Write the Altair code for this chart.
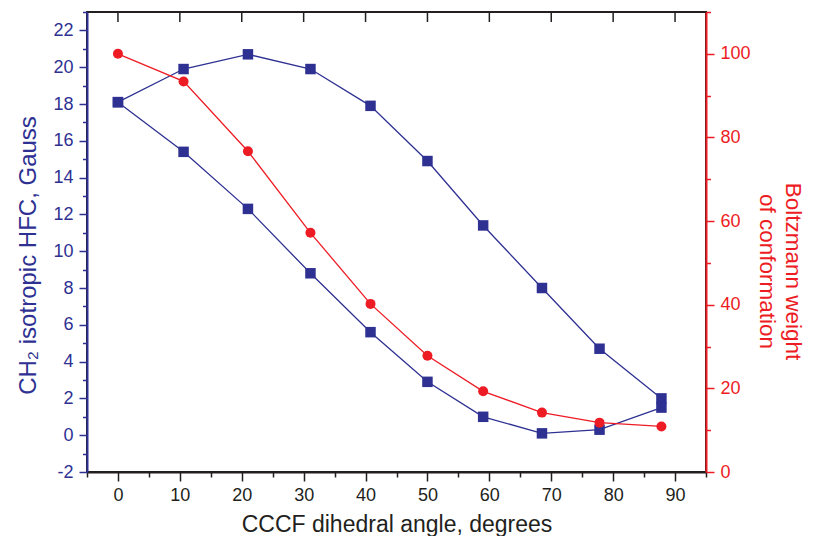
import altair as alt
import pandas as pd

# ---- data ----
angles = [0, 10.6, 21, 31.1, 40.8, 50, 59, 68.5, 77.8, 87.8]
hfc_upper = [18.1, 19.9, 20.7, 19.9, 17.9, 14.9, 11.4, 8.0, 4.7, 2.0]
hfc_lower = [18.1, 15.4, 12.3, 8.8, 5.6, 2.9, 1.0, 0.1, 0.3, 1.5]
boltzmann = [100, 93.4, 76.7, 57.2, 40.2, 27.8, 19.3, 14.2, 11.8, 10.9]

x_ticks = [-5, 0, 5, 10, 15, 20, 25, 30, 35, 40, 45, 50, 55, 60, 65, 70, 75, 80, 85, 90, 95]
top_ticks = [0, 10, 20, 30, 40, 50, 60, 70, 80, 90]
left_ticks = [-2, -1, 0, 1, 2, 3, 4, 5, 6, 7, 8, 9, 10, 11, 12, 13, 14, 15, 16, 17, 18, 19, 20, 21, 22, 23]
right_ticks = [0, 10, 20, 30, 40, 50, 60, 70, 80, 90, 100, 110]

BLUE = "#2E3192"
RED = "#ED1C24"
BLACK = "#231F20"
FONT = "Liberation Sans"
W, H = 619, 460

df_blue = pd.DataFrame({
    "angle": angles + angles,
    "hfc": hfc_upper + hfc_lower,
    "branch": ["upper"] * len(angles) + ["lower"] * len(angles),
})
df_red = pd.DataFrame({"angle": angles, "weight": boltzmann})
df_top = pd.DataFrame({"angle": top_ticks})

x_scale = alt.Scale(domain=[-5, 95], nice=False, zero=False)

x_axis = alt.Axis(
    values=x_ticks,
    labelExpr="datum.value % 10 == 0 ? '' + datum.value : ''",
    tickSize={"condition": {"test": "datum.value % 10 != 0", "value": 5}, "value": 9},
    grid=False, domainColor=BLACK, domainWidth=2, tickColor=BLACK, tickWidth=1.5,
    labelColor=BLACK, labelFont=FONT, labelFontSize=18, labelPadding=5,
    labelOverlap=False, labelFlush=False, labelBound=False,
    title="CCCF dihedral angle, degrees", titleFont=FONT, titleFontSize=23,
    titleFontWeight="normal", titleColor=BLACK, titleBaseline="alphabetic", titleY=59,
)

left_axis = alt.Axis(
    orient="left", values=left_ticks,
    labelExpr="datum.value % 2 == 0 ? '' + datum.value : ''",
    tickSize={"condition": {"test": "datum.value % 2 != 0", "value": 4.5}, "value": 8},
    grid=False, domainColor=BLUE, domainWidth=2, tickColor=BLUE, tickWidth=1.5,
    labelColor=BLUE, labelFont=FONT, labelFontSize=18, labelPadding=6,
    labelOverlap=False, labelFlush=False, labelBound=False,
    title="CH\u2082 isotropic HFC, Gauss", titleFont=FONT, titleFontSize=24,
    titleFontWeight="normal", titleColor=BLUE, titleAngle=-90, titleAlign="center",
    titleBaseline="alphabetic", titleX=-52, titleY=243,
)

right_axis = alt.Axis(
    orient="right", values=right_ticks,
    labelExpr="datum.value % 20 == 0 ? '' + datum.value : ''",
    tickSize={"condition": {"test": "datum.value % 20 != 0", "value": 4.5}, "value": 8},
    grid=False, domainColor=RED, domainWidth=2, tickColor=RED, tickWidth=1.5,
    labelColor=RED, labelFont=FONT, labelFontSize=18, labelPadding=6,
    labelOverlap=False, labelFlush=False, labelBound=False,
    title=["Boltzmann weight", "of conformation"], titleFont=FONT, titleFontSize=22.5,
    titleFontWeight="normal", titleColor=RED, titleAngle=90, titleAlign="center",
    titleBaseline="alphabetic", titleLineHeight=26, titleX=79, titleY=259,
)

y_left = alt.Scale(domain=[-2, 23], nice=False, zero=False)
y_right = alt.Scale(domain=[0, 110], nice=False, zero=False)

x_enc = alt.X("angle:Q", scale=x_scale, axis=x_axis)

blue_line = alt.Chart().mark_line(color=BLUE, strokeWidth=1.3).encode(
    detail="branch:N", order="angle:Q"
)
blue_pts = alt.Chart().mark_point(shape="square", filled=True, size=110, color=BLUE, opacity=1)
blue = alt.layer(blue_line, blue_pts, data=df_blue).encode(
    x=x_enc,
    y=alt.Y("hfc:Q", scale=y_left, axis=left_axis),
)

red_line = alt.Chart().mark_line(color=RED, strokeWidth=1.3).encode(order="angle:Q")
red_pts = alt.Chart().mark_circle(size=100, color=RED, opacity=1)
red = alt.layer(red_line, red_pts, data=df_red).encode(
    x=x_enc,
    y=alt.Y("weight:Q", scale=y_right, axis=right_axis),
)

top_tick_marks = alt.Chart(df_top).mark_rule(color=BLACK, strokeWidth=1.5).encode(
    x=x_enc, y=alt.value(0), y2=alt.value(10),
)

chart = alt.layer(blue, red, top_tick_marks).resolve_scale(
    y="independent"
).properties(
    width=W, height=H,
    autosize=alt.AutoSizeParams(type="none"),
    padding={"left": 79, "top": 4, "right": 100, "bottom": 64},
    background="white",
).configure_view(stroke=BLACK, strokeWidth=2)

chart.save("out.html", embed_options={"renderer": "svg", "actions": False})
